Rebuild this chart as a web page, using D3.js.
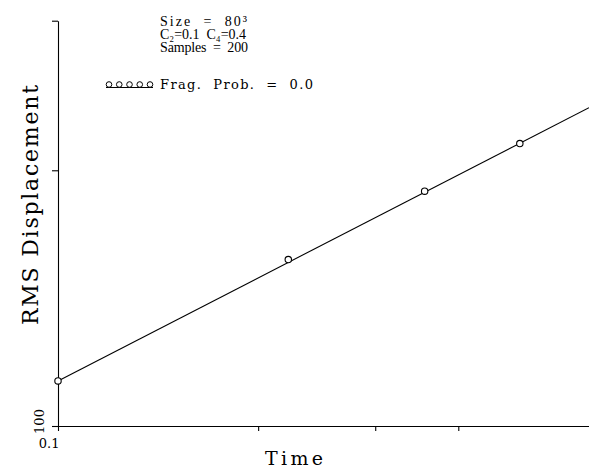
<!DOCTYPE html>
<html>
<head>
<meta charset="utf-8">
<script src="https://d3js.org/d3.v7.min.js"></script>
<style>
body { margin: 0; background: #fff; }
svg { display: block; }
text { font-family: "DejaVu Serif", "Liberation Serif", serif; fill: #000; }
</style>
</head>
<body>
<script>
const WIDTH = 589;
const HEIGHT = 468;
const LEFT = 58;
const RIGHT = 589;
const TOP = 20.7;
const BOTTOM = 426;

// measured points
var times = [0.1, 0.222, 0.356, 0.495];
var rmsValues = [113, 157, 189, 215];

// fitted power law line
var fitTimes = [0.1, 0.629];
var fitValues = [113, 237];

var xTicks = [0.1, 0.2, 0.3, 0.4];
var yTicks = [100, 200, 300];

var infoLines = ['Size  =  80\u00b3', 'C\u2082=0.1  C\u2084=0.4', 'Samples  =  200'];
var infoWidths = [87, 86, 88];
var legendLabel = 'Frag.  Prob.  =  0.0';

var drawChart = function(){
	var svg = d3.select('body')
		.append('svg')
		.attr('width', WIDTH)
		.attr('height', HEIGHT);

	var xScale = d3.scaleLog().domain([0.1, 0.629]).range([LEFT, RIGHT]);
	var yScale = d3.scaleLog().domain([100, 300]).range([BOTTOM, TOP]);

	var xAxis = d3.axisBottom(xScale)
		.tickValues(xTicks)
		.tickSize(5)
		.tickSizeOuter(0)
		.tickFormat(function(d){ return d === 0.1 ? '0.1' : ''; });
	var gx = svg.append('g')
		.attr('transform', 'translate(0,' + BOTTOM + ')')
		.call(xAxis);

	var yAxis = d3.axisLeft(yScale)
		.tickValues(yTicks)
		.tickSize(6)
		.tickSizeOuter(0)
		.tickFormat(function(d){ return d === 100 ? '100' : ''; });
	var gy = svg.append('g')
		.attr('transform', 'translate(' + LEFT + ',0)')
		.call(yAxis);

	svg.selectAll('.domain, .tick line').attr('stroke', '#000').attr('stroke-width', 1.1);
	svg.selectAll('.tick text')
		.attr('font-family', '"DejaVu Serif", serif')
		.attr('font-size', 13)
		.attr('fill', '#000');

	gx.selectAll('.tick text')
		.attr('text-anchor', 'end')
		.attr('x', 1)
		.attr('y', 13);

	gy.selectAll('.tick text')
		.attr('text-anchor', 'middle')
		.attr('x', 0)
		.attr('dy', 0)
		.attr('transform', 'translate(-14,-5) rotate(-90)');

	// fit line
	var line = d3.line()
		.x(function(d){ return xScale(d[0]); })
		.y(function(d){ return yScale(d[1]); });

	svg.append('path')
		.attr('d', line(d3.zip(fitTimes, fitValues)))
		.attr('fill', 'none')
		.attr('stroke', '#000')
		.attr('stroke-width', 1.1);

	svg.append('g')
		.selectAll('circle')
		.data(d3.zip(times, rmsValues))
		.enter()
		.append('circle')
		.attr('cx', function(d){ return xScale(d[0]); })
		.attr('cy', function(d){ return yScale(d[1]); })
		.attr('r', 3.2)
		.attr('fill', '#fff')
		.attr('stroke', '#000')
		.attr('stroke-width', 1.1);

	// info block
	svg.append('g')
		.selectAll('text')
		.data(infoLines)
		.enter()
		.append('text')
		.attr('x', 160)
		.attr('y', function(d, i){ return 26 + i * 13; })
		.style('font-family', '"Liberation Serif", serif')
		.attr('font-size', 14)
		.attr('textLength', function(d, i){ return infoWidths[i]; })
		.attr('lengthAdjust', 'spacing')
		.style('white-space', 'pre')
		.text(function(d){ return d; });

	// legend
	var legend = svg.append('g');
	legend.append('line')
		.attr('x1', 106).attr('x2', 153)
		.attr('y1', 87.5).attr('y2', 87.5)
		.attr('stroke', '#000')
		.attr('stroke-width', 1);
	legend.selectAll('circle')
		.data(d3.range(5))
		.enter()
		.append('circle')
		.attr('cx', function(d){ return 109 + d * 10.25; })
		.attr('cy', 84.5)
		.attr('r', 2.8)
		.attr('fill', '#fff')
		.attr('stroke', '#000')
		.attr('stroke-width', 1);
	legend.append('text')
		.attr('x', 160)
		.attr('y', 89)
		.attr('font-size', 13)
		.attr('textLength', 153)
		.attr('lengthAdjust', 'spacing')
		.style('white-space', 'pre')
		.text(legendLabel);

	// axis titles
	svg.append('text')
		.attr('transform', 'translate(38,205) rotate(-90)')
		.attr('text-anchor', 'middle')
		.attr('font-size', 22)
		.attr('textLength', 240)
		.attr('lengthAdjust', 'spacing')
		.text('RMS Displacement');

	svg.append('text')
		.attr('x', 294)
		.attr('y', 465)
		.attr('text-anchor', 'middle')
		.attr('font-size', 19)
		.attr('textLength', 58)
		.attr('lengthAdjust', 'spacing')
		.text('Time');
};

window.onload = function(){
	drawChart();
};
</script>
</body>
</html>
